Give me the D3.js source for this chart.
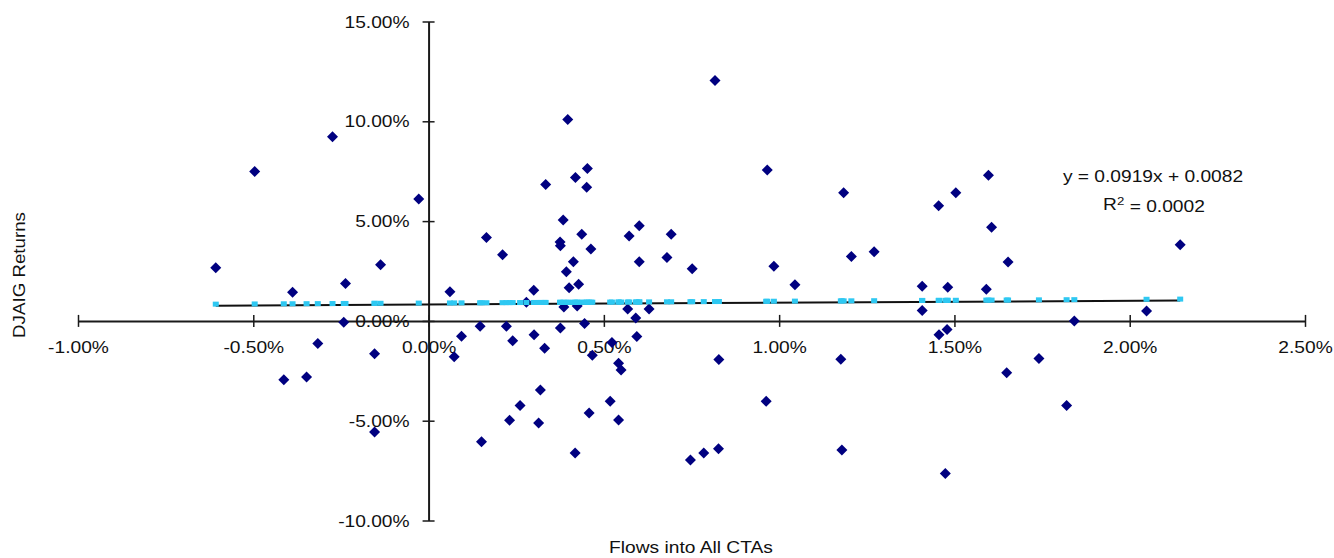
<!DOCTYPE html>
<html>
<head>
<meta charset="utf-8">
<script src="https://cdn.jsdelivr.net/npm/d3@7/dist/d3.min.js"></script>
<style>
  body { margin: 0; background: #fff; }
  svg { display: block; font-family: "Liberation Sans", Arial, sans-serif; }
</style>
</head>
<body>
<svg id="chart"></svg>
<script>
// data, all in percent
var flows = [
  -0.607, -0.496, -0.274, -0.388, -0.237, -0.137, -0.028, -0.242, -0.316, -0.154, -0.413, -0.348, -0.154,
  0.061, 0.165, 0.211, 0.397, 0.817, 0.334, 0.419, 0.453, 0.451, 0.966, 1.184, 0.384, 0.375, 0.376,
  0.437, 0.463, 0.413, 0.393, 0.401, 0.428, 0.300, 0.572, 0.601, 0.601, 0.692, 0.680, 0.752, 0.985,
  1.045, 1.206, 0.279, 0.386, 0.424, 0.568, 0.629, 0.591, 0.147, 0.222, 0.376, 0.445, 0.094, 0.301,
  0.240, 0.331, 0.594, 0.073, 0.467, 0.523, 0.542, 0.549, 0.828, 1.176, 0.319, 0.261, 0.231, 0.314,
  0.151, 0.458, 0.518, 0.542, 0.418, 0.963, 0.747, 0.785, 0.827, 1.179,
  1.597, 1.504, 1.455, 1.606, 1.271, 1.653, 2.144, 1.408, 1.481, 1.591, 1.408, 2.048, 1.842, 1.479,
  1.456, 1.741, 1.649, 1.820, 1.474
];
var returns = [
  2.66, 7.48, 9.22, 1.44, 1.88, 2.81, 6.11, -0.07, -1.13, -1.64, -2.95, -2.81, -5.57,
  1.46, 4.18, 3.31, 10.09, 12.04, 6.83, 7.19, 7.63, 6.69, 7.56, 6.42, 5.05, 3.95, 3.77,
  4.34, 3.60, 2.96, 2.46, 1.66, 1.83, 1.54, 4.25, 4.77, 2.96, 4.34, 3.18, 2.61, 2.74,
  1.81, 3.23, 0.94, 0.70, 0.75, 0.59, 0.60, 0.15, -0.27, -0.27, -0.35, -0.13, -0.77, -0.70,
  -1.00, -1.37, -0.78, -1.79, -1.72, -1.08, -2.12, -2.46, -1.94, -1.92, -3.46, -4.24, -4.98, -5.12,
  -6.05, -4.62, -4.03, -4.97, -6.62, -4.03, -6.97, -6.62, -6.40, -6.47,
  7.30, 6.42, 5.77, 4.69, 3.46, 2.95, 3.81, 1.74, 1.68, 1.59, 0.52, 0.49, 0.00, -0.43,
  -0.70, -1.89, -2.60, -4.24, -7.64
];
var xTicks = [-1, -0.5, 0, 0.5, 1, 1.5, 2, 2.5];
var yTicks = [-10, -5, 0, 5, 10, 15];
// trendline as printed on the chart (fractions)
var slope = 0.0919, intercept = 0.0082;

var width = 1334, height = 558;
var stretch = 1.2; // text in the picture is drawn a bit wide

var svg = d3.select("#chart").attr("width", width).attr("height", height);

var x = d3.scaleLinear().domain([-1, 2.5]).range([78, 1305]);
var y = d3.scaleLinear().domain([-10, 15]).range([520.5, 21.5]);
var fmt = function(d) { return d.toFixed(2) + "%"; };
var predict = function(v) { return (slope * v / 100 + intercept) * 100; };

var pts = flows.map(function(f, i) { return {x: f, y: returns[i]}; });

// x axis through y = 0
var xAxis = svg.append("g")
  .attr("transform", "translate(0," + y(0) + ")")
  .call(d3.axisBottom(x).tickValues(xTicks).tickFormat(fmt).tickSizeOuter(0));
xAxis.select(".domain").attr("stroke", "#1a1a1a").attr("stroke-width", 2);
xAxis.selectAll(".tick line").attr("y1", -6).attr("y2", 6).attr("stroke", "#1a1a1a").attr("stroke-width", 1.5);
xAxis.selectAll(".tick text")
  .attr("y", 27).attr("dy", "0.35em")
  .attr("font-size", 16).attr("fill", "#111")
  .attr("font-family", "Liberation Sans, Arial, sans-serif")
  .attr("transform", "scale(" + stretch + ",1)");

// y axis through x = 0
var yAxis = svg.append("g")
  .attr("transform", "translate(" + x(0) + ",0)")
  .call(d3.axisLeft(y).tickValues(yTicks).tickFormat(fmt).tickSizeOuter(0));
yAxis.select(".domain").attr("stroke", "#1a1a1a").attr("stroke-width", 2);
yAxis.selectAll(".tick line").attr("x1", -6).attr("x2", 6).attr("stroke", "#1a1a1a").attr("stroke-width", 1.5);
yAxis.selectAll(".tick text")
  .attr("x", -19 / stretch).attr("dy", "0.35em")
  .attr("font-size", 16).attr("fill", "#111")
  .attr("font-family", "Liberation Sans, Arial, sans-serif")
  .attr("transform", "scale(" + stretch + ",1)");

// scatter points (diamonds)
var diamond = "M0,-5.5L5.5,0L0,5.5L-5.5,0Z";
svg.append("g").selectAll("path")
  .data(pts)
  .enter().append("path")
  .attr("d", diamond)
  .attr("transform", function(d) { return "translate(" + x(d.x) + "," + y(d.y) + ")"; })
  .attr("fill", "#000080");

// linear trendline
var xExt = d3.extent(flows);
svg.append("line")
  .attr("x1", x(xExt[0])).attr("y1", y(predict(xExt[0])))
  .attr("x2", x(xExt[1])).attr("y2", y(predict(xExt[1])))
  .attr("stroke", "#111").attr("stroke-width", 2);

// predicted values
svg.append("g").selectAll("rect")
  .data(pts)
  .enter().append("rect")
  .attr("x", function(d) { return x(d.x) - 3; })
  .attr("y", function(d) { return y(predict(d.x)) - 4; })
  .attr("width", 6)
  .attr("height", 5)
  .attr("fill", "#2ec8f2");

// equation
svg.append("text")
  .attr("transform", "translate(1153,176) scale(" + stretch + ",1)")
  .attr("text-anchor", "middle").attr("dy", "0.35em")
  .attr("font-size", 16).attr("fill", "#111")
  .text("y = 0.0919x + 0.0082");

var r2 = svg.append("text")
  .attr("transform", "translate(1154,204) scale(" + stretch + ",1)")
  .attr("text-anchor", "middle").attr("dy", "0.35em")
  .attr("font-size", 16).attr("fill", "#111");
r2.append("tspan").text("R");
r2.append("tspan").attr("dy", "-0.45em").attr("font-size", 11).text("2");
r2.append("tspan").attr("dy", "0.45em").text(" = 0.0002");

// axis titles
svg.append("text")
  .attr("transform", "translate(19,275) rotate(-90) scale(1.17,1)")
  .attr("text-anchor", "middle").attr("dy", "0.35em")
  .attr("font-size", 16).attr("fill", "#111")
  .text("DJAIG Returns");

svg.append("text")
  .attr("transform", "translate(691,547) scale(" + stretch + ",1)")
  .attr("text-anchor", "middle").attr("dy", "0.35em")
  .attr("font-size", 16).attr("fill", "#111")
  .text("Flows into All CTAs");
</script>
</body>
</html>
